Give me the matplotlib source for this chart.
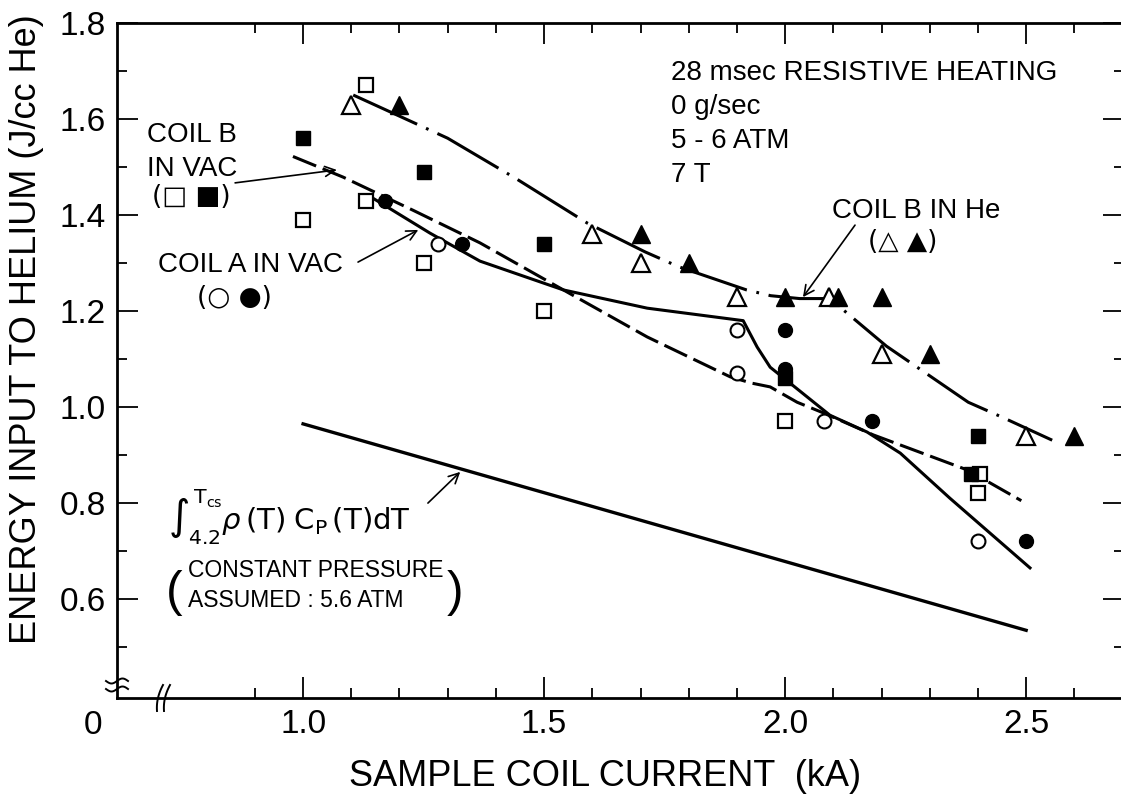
import matplotlib
matplotlib.use("Agg")
import matplotlib.pyplot as plt
import numpy as np
from matplotlib.lines import Line2D

plt.rcParams["font.family"] = ["Liberation Sans", "DejaVu Sans"]

# ---- measured points (sample coil current in kA, energy in J/cc He) ----
coil_b_vac_open_x = [1.0, 1.13, 1.13, 1.25, 1.5, 2.0, 2.405, 2.40]
coil_b_vac_open_y = [1.39, 1.67, 1.43, 1.30, 1.20, 0.97, 0.86, 0.82]
coil_b_vac_fill_x = [1.0, 1.25, 1.5, 2.0, 2.4, 2.385]
coil_b_vac_fill_y = [1.56, 1.49, 1.34, 1.06, 0.94, 0.86]

coil_a_vac_open_x = [1.28, 1.9, 1.9, 2.08, 2.4]
coil_a_vac_open_y = [1.34, 1.16, 1.07, 0.97, 0.72]
coil_a_vac_fill_x = [1.17, 1.33, 2.0, 2.0, 2.18, 2.5]
coil_a_vac_fill_y = [1.43, 1.34, 1.16, 1.08, 0.97, 0.72]

coil_b_he_open_x = [1.1, 1.6, 1.7, 1.9, 2.09, 2.2, 2.5]
coil_b_he_open_y = [1.63, 1.36, 1.30, 1.23, 1.23, 1.11, 0.94]
coil_b_he_fill_x = [1.2, 1.7, 1.8, 2.0, 2.11, 2.2, 2.3, 2.6]
coil_b_he_fill_y = [1.63, 1.36, 1.30, 1.23, 1.23, 1.23, 1.11, 0.94]

# ---- hand-drawn trend curves ----
he_curve_x = [1.104, 1.20, 1.30, 1.44, 1.59, 1.71, 1.78, 1.92, 1.97, 2.03, 2.09,
              2.114, 2.21, 2.38, 2.45, 2.554]
he_curve_y = [1.650, 1.606, 1.560, 1.477, 1.383, 1.323, 1.292, 1.244, 1.232, 1.226,
              1.226, 1.208, 1.127, 1.010, 0.979, 0.931]

vac_b_curve_x = [0.979, 1.083, 1.228, 1.367, 1.54, 1.714, 1.886, 1.93, 1.969, 2.025,
                 2.079, 2.183, 2.378, 2.49]
vac_b_curve_y = [1.522, 1.479, 1.410, 1.342, 1.244, 1.146, 1.063, 1.050, 1.042, 1.010,
                 0.988, 0.942, 0.869, 0.805]

vac_a_curve_x = [1.145, 1.263, 1.367, 1.54, 1.714, 1.913, 1.942, 1.969, 2.01, 2.093,
                 2.17, 2.239, 2.342, 2.508]
vac_a_curve_y = [1.435, 1.3625, 1.304, 1.244, 1.206, 1.180, 1.125, 1.083, 1.050, 0.983,
                 0.948, 0.904, 0.810, 0.665]

integral_x = [1.0, 2.5]
integral_y = [0.965, 0.535]

# ---- axis ticks ----
x_major = [1.0, 1.5, 2.0, 2.5]
x_major_labels = ["1.0", "1.5", "2.0", "2.5"]
x_minor = [0.9, 1.1, 1.2, 1.3, 1.4, 1.6, 1.7, 1.8, 1.9, 2.1, 2.2, 2.3, 2.4, 2.6]
y_major = [0.6, 0.8, 1.0, 1.2, 1.4, 1.6, 1.8]
y_major_labels = ["0.6", "0.8", "1.0", "1.2", "1.4", "1.6", "1.8"]
y_minor = [0.5, 0.7, 0.9, 1.1, 1.3, 1.5, 1.7]

W, H = 1121, 794
fig = plt.figure(figsize=(W / 100, H / 100), dpi=100)
ax = fig.add_axes([117 / W, (H - 698) / H, (1124 - 117) / W, (698 - 23) / H])
ax.set_xlim(0.614, 2.703)
ax.set_ylim(0.394, 1.8)

for s in ax.spines.values():
    s.set_linewidth(2.0)

ax.set_xticks(x_major)
ax.set_xticklabels(x_major_labels)
ax.set_xticks(x_minor, minor=True)
ax.set_yticks(y_major)
ax.set_yticklabels(y_major_labels)
ax.set_yticks(y_minor, minor=True)
ax.tick_params(which="both", direction="in", top=True, right=True, width=1.3)
ax.tick_params(which="major", length=15, labelsize=24, pad=8)
ax.tick_params(which="minor", length=7.5)

ax.set_xlabel("SAMPLE COIL CURRENT  (kA)", fontsize=26, va="center")
ax.xaxis.set_label_coords(0.4846, -0.117)
ax.set_ylabel("ENERGY INPUT TO HELIUM (J/cc He)", fontsize=26, va="center")
ax.yaxis.set_label_coords(-0.0894, 0.547)

# trend curves
ax.plot(he_curve_x, he_curve_y, color="k", lw=2.2, dashes=(23, 3.2, 0.9, 3.2), zorder=2)
ax.plot(vac_b_curve_x, vac_b_curve_y, color="k", lw=2.2, dashes=(8.2, 2.3), zorder=2)
ax.plot(vac_a_curve_x, vac_a_curve_y, color="k", lw=2.2, zorder=2)
ax.plot(integral_x, integral_y, color="k", lw=2.4, zorder=2)

# measured points
mk = dict(ls="none", mec="k", zorder=3)
ax.plot(coil_b_vac_open_x, coil_b_vac_open_y, marker="s", ms=9.5, mfc="white", mew=1.6, **mk)
ax.plot(coil_b_vac_fill_x, coil_b_vac_fill_y, marker="s", ms=10, mfc="k", **mk)
ax.plot(coil_a_vac_open_x, coil_a_vac_open_y, marker="o", ms=10, mfc="white", mew=1.5, **mk)
ax.plot(coil_a_vac_fill_x, coil_a_vac_fill_y, marker="o", ms=10, mfc="k", **mk)
ax.plot(coil_b_he_open_x, coil_b_he_open_y, marker="^", ms=13, mfc="white", mew=1.6, **mk)
ax.plot(coil_b_he_fill_x, coil_b_he_fill_y, marker="^", ms=13, mfc="k", **mk)

# annotations
fs = 20
txt = dict(fontsize=fs, va="baseline", ha="left")
sym = dict(fontsize=19, va="baseline", ha="left", family=["DejaVu Sans"])
note = dict(fontsize=16.5, va="baseline", ha="left")

ax.text(1.763, 1.681, "28 msec RESISTIVE HEATING", **txt)
ax.text(1.763, 1.610, "0 g/sec", **txt)
ax.text(1.763, 1.540, "5 - 6 ATM", **txt)
ax.text(1.763, 1.469, "7 T", **txt)

ax.text(0.676, 1.552, "COIL B", **txt)
ax.text(0.676, 1.481, "IN VAC", **txt)
ax.text(0.687, 1.423, "(□ ■)", **sym)
ax.text(0.699, 1.281, "COIL A IN VAC", **txt)
ax.text(0.780, 1.212, "(○ ●)", **sym)
ax.text(2.097, 1.394, "COIL B IN He", **txt)
ax.text(2.172, 1.329, "(△ ▲)", **sym)

ax.text(0.720, 0.744,
        r"$\int_{\mathrm{4.2}}^{\mathrm{T_{cs}}}\rho\,\mathrm{(T)\;C_P\,(T)dT}$",
        fontsize=21, va="baseline", ha="left")
ax.text(0.761, 0.646, "CONSTANT PRESSURE", **note)
ax.text(0.761, 0.583, "ASSUMED : 5.6 ATM", **note)
ax.text(0.733, 0.612, "(", fontsize=36, va="center", ha="center", fontweight="light")
ax.text(1.315, 0.612, ")", fontsize=36, va="center", ha="center", fontweight="light")

arw = dict(arrowstyle="->", color="k", lw=1.2, mutation_scale=18, shrinkA=0, shrinkB=0)
ax.annotate("", xy=(1.07, 1.494), xytext=(0.859, 1.467), arrowprops=arw)
ax.annotate("", xy=(1.239, 1.369), xytext=(1.114, 1.302), arrowprops=arw)
ax.annotate("", xy=(2.037, 1.229), xytext=(2.145, 1.379), arrowprops=arw)
ax.annotate("", xy=(1.326, 0.865), xytext=(1.259, 0.800), arrowprops=arw)

# origin label and axis break symbols (drawn in pixel space of the figure)
fig.text(93 / W, 1 - 725 / H, "0", fontsize=24, ha="center", va="center")


def px_line(xs, ys, **kw):
    line = Line2D(np.asarray(xs) / W, 1 - np.asarray(ys) / H,
                  transform=fig.transFigure, color="k", **kw)
    fig.add_artist(line)


t = np.linspace(-1, 1, 40)
for y0 in (681, 689):
    px_line(117 + 11 * t, y0 - 2.5 * np.sin(np.pi * t), lw=1.4)
for xc in (160, 167):
    px_line(xc - 3 * t - 2.0 * (1 - t ** 2), 698 + 13 * t, lw=1.4)

fig.savefig("out.png", dpi=100)
